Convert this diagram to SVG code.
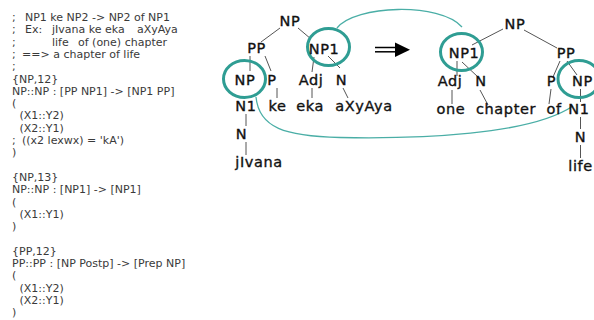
<svg xmlns="http://www.w3.org/2000/svg" width="594" height="320" viewBox="0 0 594 320">
<style>
.rule{font-family:"DejaVu Sans",Verdana,sans-serif;font-size:11px;fill:#3a3a3a;white-space:pre}
.lbl{font-family:"DejaVu Sans",Verdana,sans-serif;font-size:14.5px;fill:#111;stroke:#111;stroke-width:0.35;text-anchor:middle;letter-spacing:0.6px}
.edge{stroke:#555;stroke-width:1;fill:none}
.hl{fill:none;stroke:#2f9d93;stroke-width:3}
.link{fill:none;stroke:#4aaea6;stroke-width:1.3}
</style>
<rect width="594" height="320" fill="#fff"/>

<g id="rules">
<text class="rule" x="12" y="21">;<tspan x="25">NP1 ke NP2 -&gt; NP2 of NP1</tspan></text>
<text class="rule" x="12" y="33.3">;<tspan x="25">Ex:</tspan><tspan x="52">jIvana ke eka</tspan><tspan x="137">aXyAya</tspan></text>
<text class="rule" x="12" y="45.6">;<tspan x="52">life</tspan><tspan x="78">of (one) chapter</tspan></text>
<text class="rule" x="12" y="57.9">;<tspan x="22">==&gt; a chapter of life</tspan></text>
<text class="rule" x="12" y="70.2">;</text>
<text class="rule" x="12" y="82.5">{NP,12}</text>
<text class="rule" x="12" y="94.8">NP::NP : [PP NP1] -&gt; [NP1 PP]</text>
<text class="rule" x="12" y="107.1">(</text>
<text class="rule" x="19.5" y="119.4">(X1::Y2)</text>
<text class="rule" x="19.5" y="131.7">(X2::Y1)</text>
<text class="rule" x="12" y="144">;<tspan x="22">((x2 lexwx) = 'kA')</tspan></text>
<text class="rule" x="12" y="156.3">)</text>
<text class="rule" x="12" y="180.9">{NP,13}</text>
<text class="rule" x="12" y="193.2">NP::NP : [NP1] -&gt; [NP1]</text>
<text class="rule" x="12" y="205.5">(</text>
<text class="rule" x="19.5" y="217.8">(X1::Y1)</text>
<text class="rule" x="12" y="230.1">)</text>
<text class="rule" x="12" y="254.7">{PP,12}</text>
<text class="rule" x="12" y="267">PP::PP : [NP Postp] -&gt; [Prep NP]</text>
<text class="rule" x="12" y="279.3">(</text>
<text class="rule" x="19.5" y="291.6">(X1::Y2)</text>
<text class="rule" x="19.5" y="303.9">(X2::Y1)</text>
<text class="rule" x="12" y="316.2">)</text>
</g>

<g id="connectors">
<!-- left tree -->
<line class="edge" x1="280" y1="28" x2="261" y2="42"/>
<line class="edge" x1="298" y1="28" x2="311" y2="39"/>
<line class="edge" x1="250" y1="56" x2="250" y2="71"/>
<line class="edge" x1="265" y1="56" x2="271" y2="71"/>
<line class="edge" x1="314" y1="57" x2="312" y2="72"/>
<line class="edge" x1="328" y1="56" x2="340" y2="68"/>
<line class="edge" x1="277" y1="88" x2="277" y2="98"/>
<line class="edge" x1="312" y1="88" x2="312" y2="98"/>
<line class="edge" x1="343" y1="88" x2="348" y2="98"/>
<line class="edge" x1="246" y1="114" x2="246" y2="126"/>
<line class="edge" x1="246" y1="142" x2="246" y2="155"/>
<!-- right tree -->
<line class="edge" x1="503" y1="29" x2="472" y2="45"/>
<line class="edge" x1="524" y1="30" x2="557" y2="48"/>
<line class="edge" x1="457" y1="61" x2="457" y2="76"/>
<line class="edge" x1="462" y1="62" x2="478" y2="77"/>
<line class="edge" x1="560" y1="61" x2="553" y2="77"/>
<line class="edge" x1="567" y1="61" x2="577" y2="75"/>
<line class="edge" x1="452" y1="90" x2="452" y2="104"/>
<line class="edge" x1="480" y1="90" x2="488" y2="105"/>
<line class="edge" x1="551" y1="89" x2="549" y2="104"/>
<line class="edge" x1="580.5" y1="89" x2="580.5" y2="102"/>
<line class="edge" x1="580.5" y1="117" x2="580.5" y2="129"/>
<line class="edge" x1="580.5" y1="145" x2="580.5" y2="158"/>
<!-- movement curves -->
<path class="link" d="M337,28 C355,5 440,2 462,27"/>
<path class="link" d="M256,97 C259,128 285,136 340,137.5 C420,139 530,135 573,106"/>
<!-- transformation arrow -->
<line x1="375" y1="47.5" x2="398" y2="47.5" stroke="#000" stroke-width="1.5"/>
<line x1="375" y1="51.8" x2="398" y2="51.8" stroke="#000" stroke-width="1.5"/>
<polygon points="395,42.5 410,49.7 395,57" fill="#000"/>
</g>

<g id="highlights">
<ellipse class="hl" cx="328.5" cy="47" rx="21" ry="18.5"/>
<ellipse class="hl" cx="244.5" cy="79" rx="21" ry="18.5"/>
<ellipse class="hl" cx="461.5" cy="52" rx="21" ry="18.5"/>
<ellipse class="hl" cx="579" cy="79" rx="21" ry="18.5"/>
</g>

<g id="src-NP"><text class="lbl" x="290" y="26">NP</text></g>
<g id="src-PP"><text class="lbl" x="256.5" y="53">PP</text></g>
<g id="src-NP1"><text class="lbl" x="324" y="54">NP1</text></g>
<g id="src-NP-inner"><text class="lbl" x="245" y="85">NP</text></g>
<g id="src-P"><text class="lbl" x="272" y="85">P</text></g>
<g id="src-Adj"><text class="lbl" x="311" y="85">Adj</text></g>
<g id="src-N"><text class="lbl" x="341.5" y="85">N</text></g>
<g id="src-N1"><text class="lbl" x="246" y="111">N1</text></g>
<g id="src-ke"><text class="lbl" x="277.5" y="111">ke</text></g>
<g id="src-eka"><text class="lbl" x="310" y="111">eka</text></g>
<g id="src-aXyAya"><text class="lbl" x="364" y="111">aXyAya</text></g>
<g id="src-N2"><text class="lbl" x="241.5" y="139">N</text></g>
<g id="src-jIvana"><text class="lbl" x="259" y="167">jIvana</text></g>

<g id="tgt-NP"><text class="lbl" x="515" y="29">NP</text></g>
<g id="tgt-NP1"><text class="lbl" x="464" y="58">NP1</text></g>
<g id="tgt-PP"><text class="lbl" x="566" y="58">PP</text></g>
<g id="tgt-Adj"><text class="lbl" x="450" y="86">Adj</text></g>
<g id="tgt-N"><text class="lbl" x="481" y="86">N</text></g>
<g id="tgt-P"><text class="lbl" x="551.5" y="86">P</text></g>
<g id="tgt-NP-inner"><text class="lbl" x="582.5" y="86">NP</text></g>
<g id="tgt-one"><text class="lbl" x="451" y="114">one</text></g>
<g id="tgt-chapter"><text class="lbl" x="506" y="114">chapter</text></g>
<g id="tgt-of"><text class="lbl" x="554" y="114">of</text></g>
<g id="tgt-N1"><text class="lbl" x="579" y="114">N1</text></g>
<g id="tgt-N2"><text class="lbl" x="580.5" y="142">N</text></g>
<g id="tgt-life"><text class="lbl" x="580.5" y="171">life</text></g>
</svg>
